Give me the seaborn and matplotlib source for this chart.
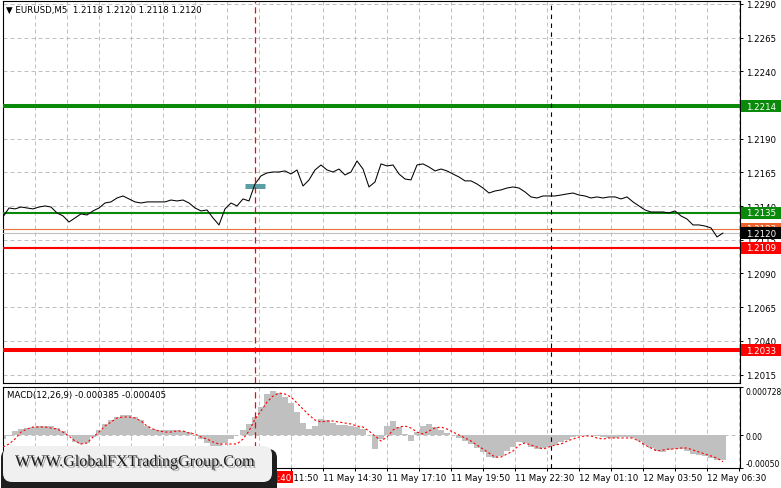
#!/usr/bin/env python3
"""EURUSD M5 chart with MACD panel, MT4 look."""

import matplotlib

matplotlib.use("Agg")
import matplotlib.dates as mdates
import matplotlib.patheffects as pe
import matplotlib.pyplot as plt
import matplotlib.transforms as mtransforms
import pandas as pd
import seaborn as sns
from matplotlib.patches import FancyBboxPatch, Rectangle

# ---- data (15-minute samples from 11 May 01:10) ----
START = "2021-05-11 01:10"
STEP = "15min"

PRICE = [
    1.21319, 1.21386, 1.21379, 1.21393, 1.21386, 1.21379, 1.21393, 1.21401, 1.21393, 1.21349,
    1.21327, 1.21282, 1.21312, 1.21342, 1.21334, 1.21364, 1.21386, 1.21423, 1.21431, 1.21460,
    1.21475, 1.21453, 1.21431, 1.21423, 1.21431, 1.21431, 1.21431, 1.21431, 1.21445, 1.21438,
    1.21445, 1.21423, 1.21386, 1.21364, 1.21371, 1.21312, 1.21260, 1.21379, 1.21423, 1.21401,
    1.21453, 1.21438, 1.21564, 1.21624, 1.21646, 1.21653, 1.21653, 1.21661, 1.21638, 1.21668,
    1.21549, 1.21594, 1.21668, 1.21705, 1.21668, 1.21653, 1.21675, 1.21631, 1.21653, 1.21735,
    1.21675, 1.21542, 1.21579, 1.21713, 1.21698, 1.21705, 1.21638, 1.21601, 1.21594, 1.21705,
    1.21713, 1.21690, 1.21661, 1.21675, 1.21661, 1.21638, 1.21616, 1.21587, 1.21587, 1.21564,
    1.21534, 1.21497, 1.21512, 1.21520, 1.21534, 1.21542, 1.21534, 1.21505, 1.21468, 1.21460,
    1.21475, 1.21475, 1.21475, 1.21482, 1.21490, 1.21497, 1.21482, 1.21475, 1.21460, 1.21468,
    1.21460, 1.21468, 1.21468, 1.21453, 1.21468, 1.21431, 1.21401, 1.21371, 1.21356, 1.21356,
    1.21356, 1.21349, 1.21364, 1.21327, 1.21304, 1.21260, 1.21260, 1.21252, 1.21238, 1.21171,
    1.21200,
]

MACD = [
    -0.000061, -0.000015, 0.000061, 0.000091, 0.000106, 0.000121, 0.000136, 0.000136, 0.000136, 0.000106,
    0.000061, -0.000015, -0.000106, -0.000136, -0.000121, -0.000030, 0.000076, 0.000167, 0.000227, 0.000273,
    0.000303, 0.000303, 0.000273, 0.000227, 0.000136, 0.000091, 0.000076, 0.000076, 0.000076, 0.000076,
    0.000061, 0.000045, 0.000000, -0.000061, -0.000121, -0.000167, -0.000167, -0.000121, -0.000061, 0.000000,
    0.000076, 0.000167, 0.000273, 0.000424, 0.000622, 0.000667, 0.000637, 0.000576, 0.000485, 0.000349,
    0.000182, 0.000091, 0.000136, 0.000243, 0.000227, 0.000182, 0.000152, 0.000152, 0.000136, 0.000121,
    0.000091, 0.000000, -0.000212, -0.000061, 0.000136, 0.000212, 0.000121, 0.000015, -0.000091, 0.000045,
    0.000136, 0.000167, 0.000121, 0.000076, 0.000030, 0.000000, -0.000045, -0.000091, -0.000136, -0.000197,
    -0.000258, -0.000334, -0.000349, -0.000318, -0.000243, -0.000182, -0.000106, -0.000121, -0.000182, -0.000212,
    -0.000197, -0.000182, -0.000152, -0.000106, -0.000076, -0.000030, -0.000015, -0.000005, -0.000005, -0.000015,
    -0.000030, -0.000045, -0.000045, -0.000030, -0.000030, -0.000045, -0.000091, -0.000152, -0.000197, -0.000243,
    -0.000258, -0.000227, -0.000212, -0.000212, -0.000243, -0.000288, -0.000303, -0.000318, -0.000349, -0.000379,
    -0.000385,
]

SIGNAL = [
    -0.000182, -0.000136, -0.000061, 0.000045, 0.000091, 0.000121, 0.000121, 0.000121, 0.000106, 0.000091,
    0.000045, -0.000015, -0.000091, -0.000136, -0.000121, -0.000030, 0.000045, 0.000136, 0.000197, 0.000258,
    0.000273, 0.000273, 0.000258, 0.000212, 0.000136, 0.000091, 0.000061, 0.000045, 0.000045, 0.000061,
    0.000061, 0.000030, 0.000015, -0.000030, -0.000061, -0.000106, -0.000136, -0.000136, -0.000136, -0.000136,
    -0.000061, 0.000061, 0.000243, 0.000364, 0.000500, 0.000591, 0.000637, 0.000622, 0.000576, 0.000485,
    0.000394, 0.000303, 0.000227, 0.000197, 0.000212, 0.000212, 0.000197, 0.000182, 0.000167, 0.000136,
    0.000121, 0.000061, -0.000015, -0.000091, -0.000030, 0.000076, 0.000121, 0.000136, 0.000106, 0.000045,
    0.000015, 0.000061, 0.000106, 0.000121, 0.000091, 0.000045, 0.000000, -0.000045, -0.000091, -0.000152,
    -0.000212, -0.000273, -0.000334, -0.000334, -0.000288, -0.000243, -0.000152, -0.000121, -0.000152, -0.000182,
    -0.000212, -0.000182, -0.000152, -0.000136, -0.000091, -0.000061, -0.000030, -0.000015, -0.000015, -0.000045,
    -0.000061, -0.000045, -0.000045, -0.000045, -0.000045, -0.000045, -0.000091, -0.000152, -0.000197, -0.000243,
    -0.000227, -0.000212, -0.000212, -0.000197, -0.000197, -0.000227, -0.000258, -0.000288, -0.000318, -0.000349,
    -0.000405,
]

PRICE_TICKS = [1.2015, 1.2040, 1.2065, 1.2090, 1.2115, 1.2140,
               1.2165, 1.2190, 1.2215, 1.2240, 1.2265, 1.2290]
PRICE_RANGE = (1.20087, 1.22922)
MACD_RANGE = (-0.00050, 0.000728)
MACD_TICKS = [-0.00050, 0.0, 0.000728]
MACD_TICK_LABELS = ["-0.00050", "0.00", "0.000728"]

SUPPORT_RESIST = [1.2214, 1.2135, 1.2109, 1.2033]
ASK = 1.2123
BID = 1.2120
ENTRY_PRICE = 1.2155
ENTRY_SPAN = ("2021-05-11 11:15", "2021-05-11 12:05")
EVENT_TIME = "2021-05-11 11:40"
DAY_BREAK = "2021-05-12 00:00"
VIEW = ("2021-05-11 01:10:00", "2021-05-12 07:52:30")
GRID_START = "2021-05-11 02:30"
GRID_STEP = "80min"

TITLE = "\u25bc EURUSD,M5  1.2118 1.2120 1.2118 1.2120"
MACD_TITLE = "MACD(12,26,9) -0.000385 -0.000405"
WATERMARK = "WWW.GlobalFXTradingGroup.Com"

FS = 6.2
GRID = dict(color="#c0c0c0", linestyle=(0, (4, 3)), linewidth=0.72)


def tag(ax, value, text, face, z):
    tr = mtransforms.blended_transform_factory(ax.transAxes, ax.transData)
    lo, hi = ax.get_ylim()
    h = (hi - lo) / 382 * 12
    ax.add_patch(Rectangle((1 + 1 / 737, value - h / 2), 42 / 737, h, transform=tr,
                           facecolor=face, edgecolor="none", clip_on=False, zorder=z))
    ax.text(1 + 6 / 737, value, text, transform=tr, color="white", fontsize=FS,
            ha="left", va="center", clip_on=False, zorder=z + 0.5)


def main() -> None:
    sns.set_theme(style="white", rc={"axes.edgecolor": "black", "axes.linewidth": 0.8,
                                     "xtick.color": "black", "ytick.color": "black",
                                     "text.color": "black"})
    plt.rcParams["font.family"] = ["DejaVu Sans"]

    times = pd.date_range(START, periods=len(PRICE), freq=STEP)
    grid_times = pd.date_range(GRID_START, VIEW[1], freq=GRID_STEP)
    x0 = mdates.date2num(pd.Timestamp(VIEW[0]))
    x1 = mdates.date2num(pd.Timestamp(VIEW[1]))

    fig = plt.figure(figsize=(7.81, 4.89), dpi=100)
    ax = fig.add_axes([3 / 781, 1 - 384 / 489, 737 / 781, 382 / 489])
    axm = fig.add_axes([3 / 781, 1 - 469 / 489, 737 / 781, 81 / 489])

    # ---- price panel ----
    sns.lineplot(x=times, y=PRICE, ax=ax, color="black", linewidth=0.75, zorder=4)
    ax.set_xlim(x0, x1)
    ax.set_ylim(*PRICE_RANGE)
    ax.set_xticks(grid_times)
    ax.set_xticklabels([])
    ax.set_yticks(PRICE_TICKS)
    ax.set_yticklabels([f"{p:.4f}" for p in PRICE_TICKS])
    ax.yaxis.tick_right()
    ax.tick_params(axis="y", right=True, length=2.2, pad=2.2, labelsize=FS, width=0.7)
    ax.tick_params(axis="x", bottom=False, length=0)
    ax.grid(True, **GRID)
    ax.set_axisbelow(True)
    ax.set_xlabel("")
    ax.set_ylabel("")

    widths = [2.9, 1.5, 1.5, 2.9]
    colors = ["#0a8a0a", "#0a8a0a", "#ff0000", "#ff0000"]
    for lvl, c, w in zip(SUPPORT_RESIST, colors, widths):
        ax.axhline(lvl, color=c, linewidth=w, zorder=3)
    ax.axhline(ASK, color="#e8703a", linewidth=0.8, zorder=3)
    ax.axhline(BID, color="#c0c0c0", linewidth=0.8, zorder=3)

    ax.hlines(ENTRY_PRICE, pd.Timestamp(ENTRY_SPAN[0]), pd.Timestamp(ENTRY_SPAN[1]),
              color="#5b9ea6", linewidth=3.6, zorder=3)

    for a in (ax, axm):
        a.axvline(pd.Timestamp(EVENT_TIME), color="#ff0000", linewidth=0.9,
                  linestyle=(0, (5, 3)), zorder=5)
        a.axvline(pd.Timestamp(DAY_BREAK), color="black", linewidth=0.8,
                  linestyle=(0, (4, 4)), zorder=5)

    tag(ax, SUPPORT_RESIST[0], "1.2214", "#0a8a0a", 6)
    tag(ax, SUPPORT_RESIST[1], "1.2135", "#0a8a0a", 6)
    tag(ax, ASK, "1.2123", "#f0602a", 6)
    tag(ax, BID, "1.2120", "black", 7)
    tag(ax, SUPPORT_RESIST[2], "1.2109", "#ff0000", 8)
    tag(ax, SUPPORT_RESIST[3], "1.2033", "#ff0000", 6)

    # ---- MACD panel ----
    axm.bar(times, MACD, width=pd.Timedelta(minutes=15), color="#c0c0c0",
            linewidth=0, zorder=2)
    sns.lineplot(x=times, y=SIGNAL, ax=axm, color="#ff0000", linewidth=0.8,
                 linestyle=(0, (2, 2)), zorder=4)
    axm.axhline(0, zorder=1, **GRID)
    axm.set_xlim(x0, x1)
    axm.set_ylim(*MACD_RANGE)
    axm.set_xticks(grid_times)
    axm.set_xticklabels([f"{t.day} {t:%b %H:%M}" if i % 2 == 1 else ""
                         for i, t in enumerate(grid_times)])
    for lbl in axm.get_xticklabels():
        lbl.set_ha("left")
    axm.tick_params(axis="x", bottom=True, length=2.2, pad=1.5, labelsize=FS, width=0.7)
    axm.grid(True, axis="x", **GRID)
    axm.set_axisbelow(True)
    axm.yaxis.tick_right()
    axm.set_yticks(MACD_TICKS)
    axm.set_yticklabels(MACD_TICK_LABELS)
    axm.tick_params(axis="y", right=True, length=2.2, pad=2.0, labelsize=5.5, width=0.7)
    ylabels = axm.get_yticklabels()
    ylabels[0].set_va("bottom")
    ylabels[2].set_va("top")
    axm.set_xlabel("")
    axm.set_ylabel("")

    ev = pd.Timestamp(EVENT_TIME)
    axm.annotate(f"{ev.day} {ev:%b %H:%M}",
                 xy=(mdates.date2num(ev), 0),
                 xycoords=("data", "axes fraction"), xytext=(5, -6.6),
                 textcoords="offset points", ha="center", va="center",
                 color="white", fontsize=FS, annotation_clip=False, zorder=8,
                 bbox=dict(boxstyle="square,pad=0.15", fc="#ff0000", ec="none"))

    # ---- texts ----
    fig.text(6 / 781, 1 - 10 / 489, TITLE, fontsize=FS, ha="left", va="center")
    fig.text(7 / 781, 1 - 396 / 489, MACD_TITLE, fontsize=FS, ha="left", va="center")

    # ---- watermark ----
    shadow = FancyBboxPatch((0.01, -0.10), 2.76, 0.49,
                            boxstyle="round,pad=0,rounding_size=0.09",
                            transform=fig.dpi_scale_trans, fc="#1e1e1e", ec="none")
    box = FancyBboxPatch((0.03, 0.06), 2.69, 0.36,
                         boxstyle="round,pad=0,rounding_size=0.09",
                         transform=fig.dpi_scale_trans, fc="#f0f0f0", ec="none")
    fig.add_artist(shadow)
    fig.add_artist(box)
    fig.text(1.35, 0.26, WATERMARK, transform=fig.dpi_scale_trans, ha="center",
             va="center", family=["Liberation Serif", "DejaVu Serif"], fontsize=11.6,
             color="#1c1c1c",
             path_effects=[pe.withSimplePatchShadow(offset=(1.2, -1.2),
                                                    shadow_rgbFace="#555555", alpha=0.5)])

    fig.savefig("out.png", dpi=100)
    plt.close(fig)


if __name__ == "__main__":
    main()
